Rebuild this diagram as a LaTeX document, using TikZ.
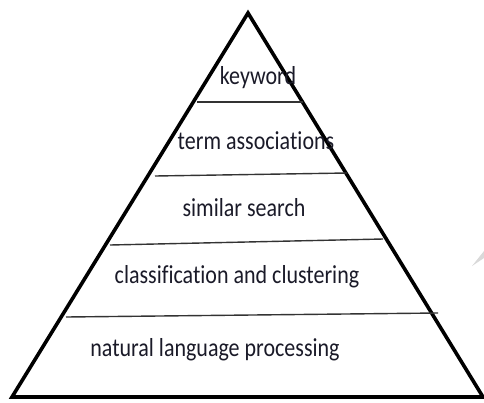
\documentclass[tikz,border=0pt]{standalone}
\usepackage{fontspec}
\setmainfont[Ligatures=NoCommon]{Carlito}
\usepackage{tikz}
\usetikzlibrary{calc}
\definecolor{labeltext}{HTML}{1A1A28}
\definecolor{layerline}{HTML}{333333}

\begin{document}
\begin{tikzpicture}[
    x=1pt, y=-1pt,
    pyramid/.style={draw=black, line width=3.6pt, line join=miter},
    layer/.style={draw=layerline, line width=1.4pt},
    lbl/.style={inner sep=0, text=labeltext, font=\fontsize{22}{24}\selectfont, yscale=1.18, transform shape}]
\useasboundingbox (0,0) rectangle (484,402);

% outline
\coordinate (apex) at (248,13);
\coordinate (baseL) at (12,397);
\coordinate (baseR) at (483,397);
\draw[pyramid] (baseL) -- (apex) -- (baseR) -- cycle;

% layer separators
\draw[layer] (197,102) -- (303,102);
\draw[layer] (155,176) -- (347,173);
\draw[layer] (110,245) -- (383,239);
\draw[layer] (66,317) -- (438,313);

% labels
\node[lbl] (kw)  at (258,78)  {keyword};
\node[lbl] (ta)  at (256,141) {term associations};
\node[lbl] (ss)  at (244,208) {similar search};
\node[lbl] (cc)  at (237,277) {classification and clustering};
\node[lbl] (nlp) at (215,350) {natural language processing};

% stray mark
\fill[gray!30] (472,266) -- (484,251) -- (484,258) -- cycle;

\end{tikzpicture}
\end{document}
